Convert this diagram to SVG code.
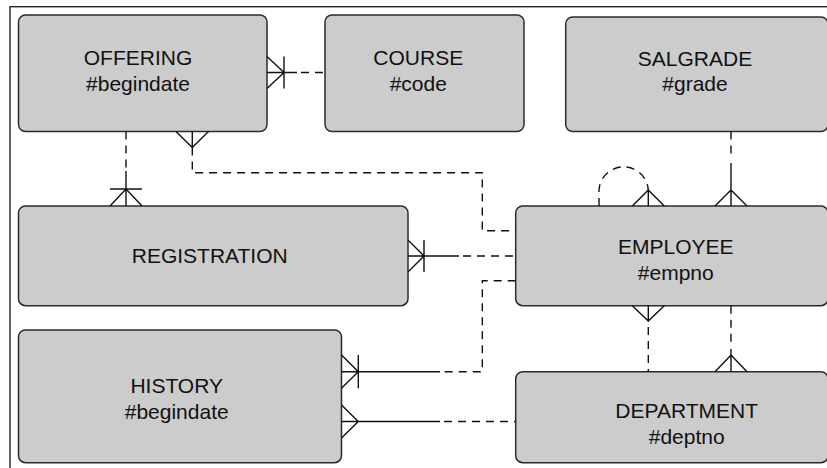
<svg xmlns="http://www.w3.org/2000/svg" width="827" height="468" viewBox="0 0 827 468">
<style>
.box{fill:#cccccc;stroke:#2b2b2b;stroke-width:1.5}
.t{font-family:"Liberation Sans",Arial,sans-serif;font-size:21px;fill:#111;text-anchor:middle}
.s{fill:none;stroke:#111;stroke-width:1.4}
.d{fill:none;stroke:#111;stroke-width:1.4;stroke-dasharray:8,6}
</style>
<rect x="10" y="6.7" width="840" height="480" fill="#ffffff" stroke="#222" stroke-width="1.4"/>
<g id="OFFERING"><rect class="box" x="18.5" y="15" width="248.5" height="116.5" rx="7"/><text class="t" x="138" y="65">OFFERING</text><text class="t" x="138" y="90.5">#begindate</text></g>
<g id="COURSE"><rect class="box" x="325" y="15" width="199" height="116.5" rx="7"/><text class="t" x="418.3" y="65">COURSE</text><text class="t" x="418.3" y="90.5">#code</text></g>
<g id="SALGRADE"><rect class="box" x="565.7" y="17" width="262.3" height="114.5" rx="7"/><text class="t" x="695" y="65.7">SALGRADE</text><text class="t" x="695" y="91">#grade</text></g>
<g id="REGISTRATION"><rect class="box" x="18.5" y="206" width="389.5" height="99.7" rx="7"/><text class="t" x="209.7" y="263.3">REGISTRATION</text></g>
<g id="EMPLOYEE"><rect class="box" x="515.7" y="206" width="312.3" height="99.7" rx="7"/><text class="t" x="675.8" y="254">EMPLOYEE</text><text class="t" x="675.8" y="279.5">#empno</text></g>
<g id="HISTORY"><rect class="box" x="18.5" y="330" width="323" height="132.7" rx="7"/><text class="t" x="176.7" y="393.3">HISTORY</text><text class="t" x="176.7" y="419">#begindate</text></g>
<g id="DEPARTMENT"><rect class="box" x="515.7" y="371.7" width="312.3" height="91" rx="7"/><text class="t" x="686.7" y="418.3">DEPARTMENT</text><text class="t" x="686.7" y="443.5">#deptno</text></g>
<g id="connectors">
<!-- OFFERING - COURSE -->
<path class="s" d="M267,72.5 H297 M267,56.5 L284,72.5 L267,88.5 M284,56.5 V88.5"/>
<path class="d" d="M301,72.5 H325"/>
<!-- OFFERING - REGISTRATION -->
<path class="d" d="M126,131.5 V171"/>
<path class="s" d="M126,171 V206 M110,206 L126,189 L142,206 M110,189 H142"/>
<!-- OFFERING - EMPLOYEE -->
<path class="s" d="M176,131.5 L192.3,147.5 L208.5,131.5 M192.3,131.5 V147.5"/>
<path class="d" d="M192.3,147.5 V172.7 H482.3 V230.7 H515.7"/>
<!-- REGISTRATION - EMPLOYEE -->
<path class="s" d="M408,256 H459 M408,240 L424,256 L408,272 M424,240 V272"/>
<path class="d" d="M463,256 H515.7"/>
<!-- EMPLOYEE - HISTORY -->
<path class="d" d="M515.7,280.7 H482.3 V371.7 H440"/>
<path class="s" d="M440,371.7 H341.5 M341.5,355 L358.3,371.7 L341.5,388.3 M358.3,355 V388.3"/>
<!-- HISTORY - DEPARTMENT -->
<path class="s" d="M341.5,421.5 H440 M341.5,405 L358.3,421.5 L341.5,438"/>
<path class="d" d="M444,421.5 H515.7"/>
<!-- EMPLOYEE self -->
<path class="d" d="M599,206 V190 A24.7,24.7 0 0 1 648.3,190"/>
<path class="s" d="M632.3,206 L648.3,190 L664.3,206 M648.3,190 V206"/>
<!-- SALGRADE - EMPLOYEE -->
<path class="d" d="M731,131.5 V158"/>
<path class="s" d="M731,163 V206 M715,206 L731,190 L747,206"/>
<!-- EMPLOYEE - DEPARTMENT (1) -->
<path class="s" d="M632.3,305.7 L648.3,321 L664.3,305.7 M648.3,305.7 V321"/>
<path class="d" d="M648.3,327 V371.7"/>
<!-- EMPLOYEE - DEPARTMENT (2) -->
<path class="d" d="M731,305.7 V345"/>
<path class="s" d="M731,349 V371.7 M715,371.7 L731,355 L747,371.7"/>
</g>
</svg>
